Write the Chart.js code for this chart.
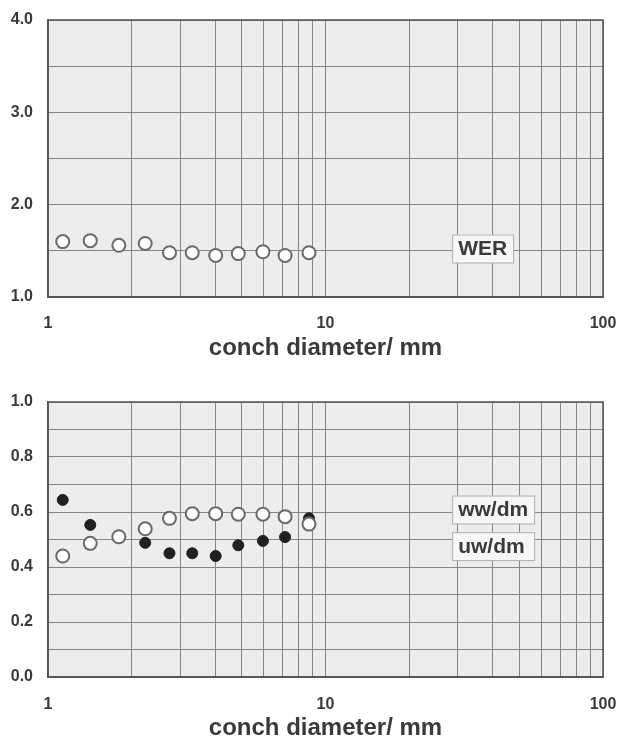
<!DOCTYPE html>
<html>
<head>
<meta charset="utf-8">
<script src="https://cdn.jsdelivr.net/npm/chart.js@4/dist/chart.umd.min.js"></script>
<style>
  html, body { margin: 0; padding: 0; background: #fff; overflow: hidden; }
  #top, #bottom { position: absolute; left: 0; }
  #top { top: 0; }
  #bottom { top: 368px; }
</style>
</head>
<body>
<canvas id="top" width="619" height="368"></canvas>
<canvas id="bottom" width="619" height="380"></canvas>
<script>
// conch diameter (mm), shared by both panels
const diameter = [1.13, 1.42, 1.8, 2.24, 2.74, 3.31, 4.02, 4.85, 5.95, 7.15, 8.72];
// top panel
const wer = [1.60, 1.61, 1.56, 1.58, 1.48, 1.48, 1.45, 1.47, 1.49, 1.45, 1.48];
// bottom panel
const wwDm = [0.44, 0.486, 0.51, 0.539, 0.577, 0.594, 0.594, 0.592, 0.592, 0.583, 0.556];
const uwDm = [0.644, 0.553, 0.51, 0.488, 0.45, 0.45, 0.44, 0.479, 0.495, 0.509, 0.577];

// tick / grid values
const xGrid = [1, 2, 3, 4, 5, 6, 7, 8, 9, 10, 20, 30, 40, 50, 60, 70, 80, 90, 100];
const xLabels = [1, 10, 100];
const werGrid = [1, 1.5, 2, 2.5, 3, 3.5, 4];
const werLabels = [1, 2, 3, 4];
const ratioGrid = [0, 0.1, 0.2, 0.3, 0.4, 0.5, 0.6, 0.7, 0.8, 0.9, 1];
const ratioLabels = [0, 0.2, 0.4, 0.6, 0.8, 1];

const FONT = "'Liberation Sans', Arial, Helvetica, sans-serif";
const GRID = "#858585";
const TEXT = "#3a3a3a";

const pts = ys => diameter.map((d, i) => ({x: d, y: ys[i]}));

// grey plot background, frame and boxed labels
const panelPlugin = {
  id: "panel",
  beforeDraw(chart) {
    const a = chart.chartArea, ctx = chart.ctx;
    ctx.save();
    ctx.fillStyle = "#ededed";
    ctx.fillRect(a.left, a.top, a.right - a.left, a.bottom - a.top);
    ctx.restore();
  },
  afterDatasetsDraw(chart, args, opts) {
    const a = chart.chartArea, ctx = chart.ctx;
    ctx.save();
    ctx.strokeStyle = "#555";
    ctx.lineWidth = 1.5;
    ctx.strokeRect(a.left, a.top, a.right - a.left, a.bottom - a.top);
    ctx.font = "bold 21px " + FONT;
    ctx.textBaseline = "middle";
    const boxes = opts.boxes || [];
    // all boxes in one panel share the same width
    const w = Math.max(...boxes.map(b => ctx.measureText(b.text).width)) + 12;
    boxes.forEach(b => {
      const x = chart.scales.x.getPixelForValue(b.x);
      const y = chart.scales.y.getPixelForValue(b.y);
      const h = 28;
      ctx.fillStyle = "#f6f6f6";
      ctx.fillRect(x, y - h / 2, w, h);
      ctx.strokeStyle = "#b0b0b0";
      ctx.lineWidth = 1;
      ctx.strokeRect(x + 0.5, y - h / 2 + 0.5, w, h);
      ctx.fillStyle = TEXT;
      ctx.fillText(b.text, x + 6, y + 1);
    });
    ctx.restore();
  }
};

function makeChart(id, datasets, yMin, yMax, yGrid, yLabels, layout, xAxis, boxes) {
  return new Chart(document.getElementById(id), {
    type: "scatter",
    data: { datasets: datasets },
    options: {
      responsive: false,
      animation: false,
      events: [],
      layout: { padding: layout },
      plugins: {
        legend: { display: false },
        tooltip: { enabled: false },
        panel: { boxes: boxes }
      },
      scales: {
        x: {
          type: "logarithmic",
          min: 1, max: 100,
          afterBuildTicks: s => { s.ticks = xGrid.map(v => ({value: v})); },
          afterFit: s => { s.height = xAxis.height; s.paddingLeft = 0; s.paddingRight = 0; },
          grid: { color: GRID, lineWidth: 1, drawTicks: false },
          border: { color: "#555", width: 1.5 },
          ticks: {
            autoSkip: false, maxRotation: 0, padding: xAxis.tickPad,
            color: TEXT, font: { family: FONT, size: 16, weight: "bold" },
            callback: v => xLabels.includes(v) ? String(v) : ""
          },
          title: {
            display: true, text: "conch diameter/ mm", color: TEXT,
            font: { family: FONT, size: 24, weight: "bold" },
            padding: { top: 0, bottom: 5 }
          }
        },
        y: {
          min: yMin, max: yMax,
          afterBuildTicks: s => { s.ticks = yGrid.map(v => ({value: v})); },
          afterFit: s => { s.width = 48; s.paddingTop = 0; s.paddingBottom = 0; },
          grid: { color: GRID, lineWidth: 1, drawTicks: false },
          border: { color: "#555", width: 1.5 },
          ticks: {
            autoSkip: false, padding: 15,
            color: TEXT, font: { family: FONT, size: 16, weight: "bold" },
            callback: v => yLabels.some(l => Math.abs(l - v) < 1e-9) ? v.toFixed(1) : ""
          }
        }
      }
    },
    plugins: [panelPlugin]
  });
}

const openStyle = {
  pointRadius: 6.5, pointBackgroundColor: "#ffffff",
  pointBorderColor: "#6a6a6a", pointBorderWidth: 2
};
const filledStyle = {
  pointRadius: 5.5, pointBackgroundColor: "#202020",
  pointBorderColor: "#202020", pointBorderWidth: 1
};

makeChart("top",
  [Object.assign({ label: "WER", data: pts(wer) }, openStyle)],
  1, 4, werGrid, werLabels,
  { left: 0, right: 16, top: 20, bottom: 0 },
  { height: 71, tickPad: 17 },
  [{ text: "WER", x: 28.6, y: 1.525 }]);

makeChart("bottom",
  [
    Object.assign({ label: "ww/dm", data: pts(wwDm) }, openStyle),
    Object.assign({ label: "uw/dm", data: pts(uwDm) }, filledStyle)
  ],
  0, 1, ratioGrid, ratioLabels,
  { left: 0, right: 16, top: 34, bottom: 0 },
  { height: 71, tickPad: 18 },
  [{ text: "ww/dm", x: 28.6, y: 0.609 }, { text: "uw/dm", x: 28.6, y: 0.476 }]);
</script>
</body>
</html>
